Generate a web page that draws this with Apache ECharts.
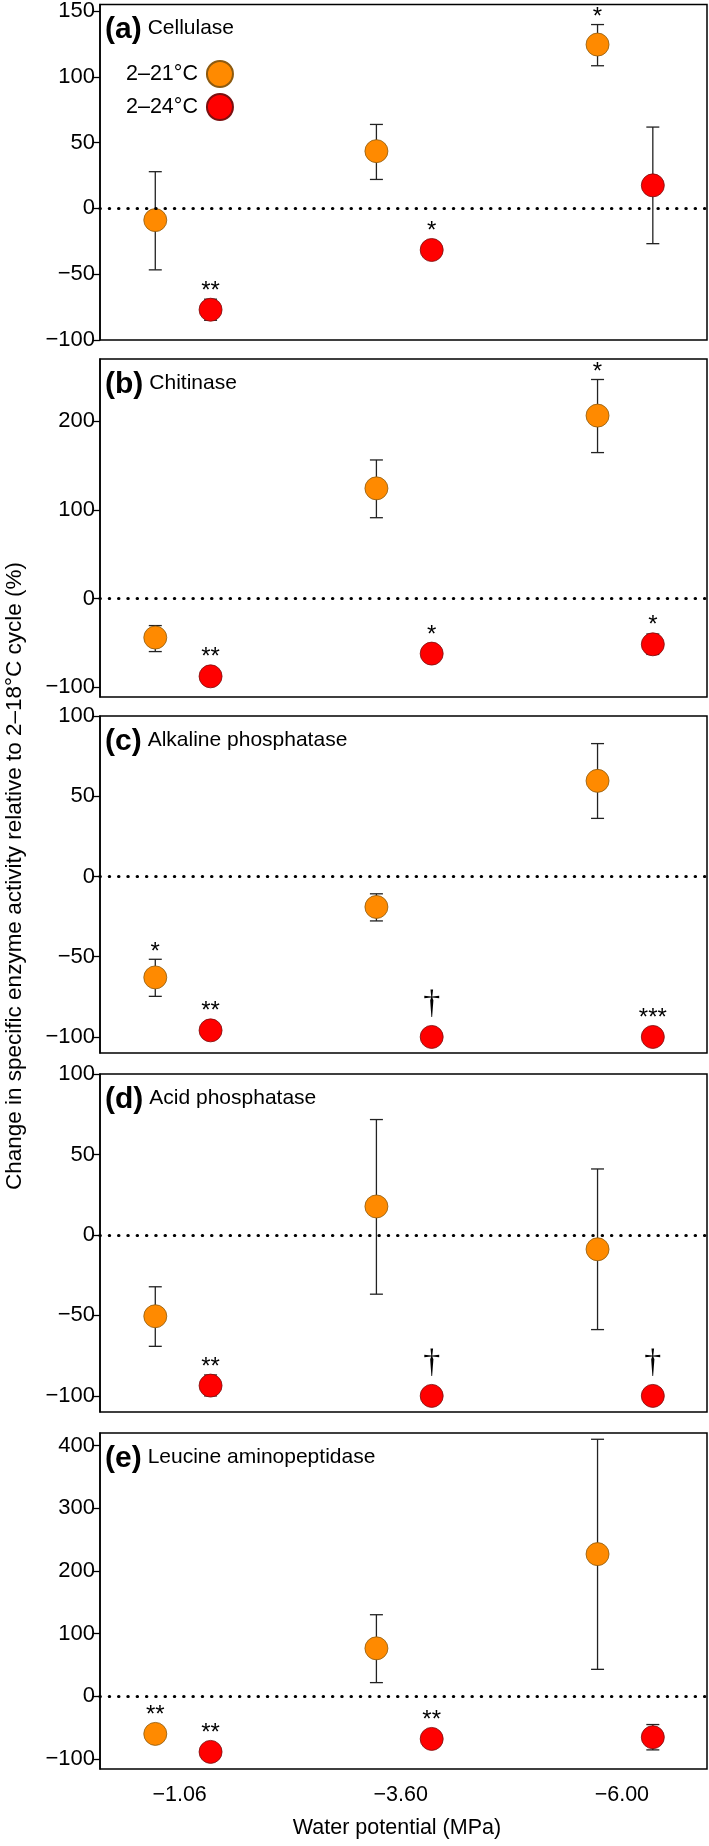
<!DOCTYPE html>
<html><head><meta charset="utf-8">
<script src="https://cdn.jsdelivr.net/npm/echarts@6/dist/echarts.min.js"></script>
<style>html,body{margin:0;padding:0;background:#fff}#c{width:709px;height:1846px}</style>
</head><body><div id="c"></div>
<script>
// ---------- DATA ----------
const categories = ['\u22121.06', '\u22123.60', '\u22126.00'];
const seriesNames = ['2\u201321\u00B0C', '2\u201324\u00B0C'];
const panelLetters = ['(a)', '(b)', '(c)', '(d)', '(e)'];
const panelNames = ['Cellulase', 'Chitinase', 'Alkaline phosphatase', 'Acid phosphatase', 'Leucine aminopeptidase'];

const ticksA = [-100, -50, 0, 50, 100, 150];
const ticksB = [-100, 0, 100, 200];
const ticksC = [-100, -50, 0, 50, 100];
const ticksD = [-100, -50, 0, 50, 100];
const ticksE = [-100, 0, 100, 200, 300, 400];

// (a) Cellulase
const cel21 = [-8.9, 43.5, 124.5];
const cel21Lo = [-46.7, 22.0, 108.4];
const cel21Hi = [27.9, 63.8, 139.7];
const cel24 = [-77.0, -31.6, 17.5];
const cel24Lo = [-85.0, -35.0, -26.8];
const cel24Hi = [-69.0, -28.0, 61.8];
const cel21Sig = ['', '', '*'];
const cel24Sig = ['**', '*', ''];

// (b) Chitinase
const chi21 = [-44.0, 124.2, 206.2];
const chi21Lo = [-59.8, 91.1, 164.5];
const chi21Hi = [-30.5, 156.2, 246.9];
const chi24 = [-87.7, -62.1, -51.6];
const chi24Lo = [-91.0, -66.0, -63.0];
const chi24Hi = [-84.0, -58.0, -40.0];
const chi21Sig = ['', '', '*'];
const chi24Sig = ['**', '*', '*'];

// (c) Alkaline phosphatase
const alk21 = [-62.9, -19.0, 59.6];
const alk21Lo = [-74.7, -27.7, 36.2];
const alk21Hi = [-51.6, -10.8, 82.8];
const alk24 = [-95.9, -100.0, -100.0];
const alk24Lo = [-97.5, -100.0, -100.0];
const alk24Hi = [-94.3, -100.0, -100.0];
const alk21Sig = ['*', '', ''];
const alk24Sig = ['**', '\u2020', '***'];

// (d) Acid phosphatase
const acp21 = [-50.5, 17.7, -8.9];
const acp21Lo = [-69.2, -36.8, -58.8];
const acp21Hi = [-32.2, 71.7, 41.0];
const acp24 = [-93.6, -100.0, -100.0];
const acp24Lo = [-100.0, -100.0, -100.0];
const acp24Hi = [-87.0, -100.0, -100.0];
const acp21Sig = ['', '', ''];
const acp24Sig = ['**', '\u2020', '\u2020'];

// (e) Leucine aminopeptidase
const lap21 = [-60.0, 76.5, 226.8];
const lap21Lo = [-62.0, 21.8, 43.0];
const lap21Hi = [-58.0, 130.1, 410.0];
const lap24 = [-88.7, -68.0, -65.3];
const lap24Lo = [-90.0, -70.0, -85.5];
const lap24Hi = [-87.0, -66.0, -45.1];
const lap21Sig = ['**', '', ''];
const lap24Sig = ['**', '**', ''];

const xTitle = 'Water potential (MPa)';
const yTitle = 'Change in specific enzyme activity relative to 2\u201318\u00B0C cycle (%)';

// ---------- BUILD ----------
const panels = [
  {ticks: ticksA, s: [[cel21, cel21Lo, cel21Hi, cel21Sig], [cel24, cel24Lo, cel24Hi, cel24Sig]]},
  {ticks: ticksB, s: [[chi21, chi21Lo, chi21Hi, chi21Sig], [chi24, chi24Lo, chi24Hi, chi24Sig]]},
  {ticks: ticksC, s: [[alk21, alk21Lo, alk21Hi, alk21Sig], [alk24, alk24Lo, alk24Hi, alk24Sig]]},
  {ticks: ticksD, s: [[acp21, acp21Lo, acp21Hi, acp21Sig], [acp24, acp24Lo, acp24Hi, acp24Sig]]},
  {ticks: ticksE, s: [[lap21, lap21Lo, lap21Hi, lap21Sig], [lap24, lap24Lo, lap24Hi, lap24Sig]]}
];

const FONT = '"Liberation Sans", Arial, Helvetica, sans-serif';
const gridPos = [{top: 4, height: 336}, {top: 359, height: 338}, {top: 716, height: 337}, {top: 1074, height: 338}, {top: 1433, height: 336}];
const yRanges = [[-100, 155], [-111, 270], [-110, 100], [-110, 100], [-116, 420]];
const X_MIN = -0.36, X_MAX = 2.385;
const OFFSETS = [-0.11, 0.14];
const COLORS = ['#FF8A00', '#FF0000'];
const BORDERS = ['#8C5A10', '#7A1010'];
const SYM = 23;

function toMinus(v) { return String(v).replace('-', '\u2212'); }

function errRender(params, api) {
  const x = api.value(0), lo = api.value(2), hi = api.value(3);
  if (lo === hi) return {type: 'group', children: []};
  const a = api.coord([x, hi]), b = api.coord([x, lo]);
  const hw = 6.5;
  const st = {stroke: '#222', lineWidth: 1.3};
  return {type: 'group', children: [
    {type: 'line', shape: {x1: a[0], y1: a[1], x2: b[0], y2: b[1]}, style: st},
    {type: 'line', shape: {x1: a[0] - hw, y1: a[1], x2: a[0] + hw, y2: a[1]}, style: st},
    {type: 'line', shape: {x1: b[0] - hw, y1: b[1], x2: b[0] + hw, y2: b[1]}, style: st}
  ]};
}

function makeSigRender(sig) {
  return function (params, api) {
    const t = sig[params.dataIndex];
    if (!t) return {type: 'group', children: []};
    const x = api.value(0), m = api.value(1), hi = api.value(3);
    const p = api.coord([x, m]);
    const capY = api.coord([x, hi])[1];
    const anchor = Math.min(p[1] - SYM / 2, capY);
    const dagger = t === '\u2020';
    return {type: 'text', x: p[0], y: dagger ? anchor - 4 : anchor + 5,
      style: {text: t, fill: '#000', align: 'center', verticalAlign: 'bottom',
        font: dagger ? '34px "Liberation Serif", "DejaVu Serif", serif' : '24px ' + FONT}};
  };
}

const option = {
  animation: false,
  backgroundColor: '#fff',
  grid: [], xAxis: [], yAxis: [], series: [],
  legend: {
    data: seriesNames, orient: 'vertical', left: 121, top: 55,
    itemWidth: 26, itemHeight: 26, itemGap: 5, align: 'right', icon: 'circle',
    textStyle: {fontSize: 21.5, color: '#000', fontFamily: FONT, padding: [0, 4, 0, 0]}
  },
  graphic: []
};

panels.forEach((p, k) => {
  option.grid.push({left: 100, right: 2, top: gridPos[k].top, height: gridPos[k].height,
    show: true, borderColor: '#000', borderWidth: 1.5, backgroundColor: 'transparent'});
  option.xAxis.push({type: 'value', gridIndex: k, min: X_MIN, max: X_MAX,
    axisLine: {show: false}, axisTick: {show: false}, splitLine: {show: false},
    axisLabel: k === 4 ? {show: true, customValues: [0, 1, 2], formatter: v => categories[Math.round(v)],
      fontSize: 21.5, color: '#000', margin: 15, fontFamily: FONT} : {show: false}});
  option.yAxis.push({type: 'value', gridIndex: k, min: yRanges[k][0], max: yRanges[k][1],
    axisLine: {show: true, onZero: false, lineStyle: {color: '#000', width: 1.5}},
    axisTick: {show: true, inside: false, length: 7, customValues: p.ticks, lineStyle: {color: '#000', width: 1.3}},
    axisLabel: {show: true, customValues: p.ticks, formatter: toMinus, fontSize: 22, color: '#000', margin: 5, fontFamily: FONT},
    splitLine: {show: false}});

  p.s.forEach((s, j) => {
    const [mean, lo, hi, sig] = s;
    const data = mean.map((m, i) => [i + OFFSETS[j], m, lo[i], hi[i]]);
    const errSeries = {type: 'custom', xAxisIndex: k, yAxisIndex: k, renderItem: errRender,
      encode: {x: 0, y: 1}, data: data, z: 2, silent: true};
    if (j === 0) {
      errSeries.markLine = {silent: true, symbol: ['none', 'none'], label: {show: false},
        data: [{yAxis: 0}], lineStyle: {color: '#000', width: 3.2, type: [0.3, 9.0], cap: 'round'}};
    }
    option.series.push(errSeries);
    option.series.push({type: 'scatter', name: seriesNames[j], xAxisIndex: k, yAxisIndex: k,
      symbol: 'circle', symbolSize: SYM, data: data.map(d => [d[0], d[1]]), z: 3,
      itemStyle: {color: COLORS[j], borderColor: BORDERS[j], borderWidth: 0.8, opacity: 1}});
    option.series.push({type: 'custom', xAxisIndex: k, yAxisIndex: k, renderItem: makeSigRender(sig),
      encode: {x: 0, y: 1}, data: data, z: 4, silent: true});
  });

  option.graphic.push({type: 'text', left: 105, top: gridPos[k].top + 11, z: 10,
    style: {text: '{l|' + panelLetters[k] + '}{n|' + panelNames[k] + '}',
      rich: {l: {font: 'bold 30px ' + FONT, fill: '#000', verticalAlign: 'middle'},
             n: {font: '21px ' + FONT, fill: '#000', padding: [0, 0, 4, 6], verticalAlign: 'middle'}}}});
});

option.graphic.push({type: 'text', x: 397, y: 1828, z: 10,
  style: {text: xTitle, font: '21.5px ' + FONT, fill: '#000', align: 'center', verticalAlign: 'middle'}});
option.graphic.push({type: 'text', x: 15, y: 876, rotation: Math.PI / 2, z: 10,
  style: {text: yTitle, font: '22.5px ' + FONT, fill: '#000', align: 'center', verticalAlign: 'middle'}});

const chart = echarts.init(document.getElementById('c'), null, {renderer: 'canvas'});
chart.setOption(option);
</script>
</body></html>
